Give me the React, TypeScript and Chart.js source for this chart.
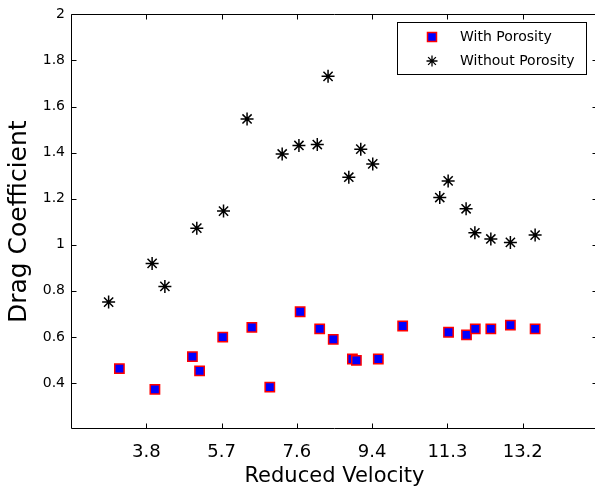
import React, { useEffect, useRef } from "react";
import { Chart, registerables } from "chart.js";

Chart.register(...registerables);

// Reduced velocity values (x) and drag coefficients (y)
const withPorosityX = [3.10, 3.99, 4.93, 5.11, 5.69, 6.42, 6.87, 7.63, 8.12, 8.46, 8.94, 9.04, 9.59, 10.20, 11.35, 11.80, 12.02, 12.41, 12.90, 13.52];
const withPorosityY = [0.462, 0.372, 0.514, 0.452, 0.599, 0.641, 0.382, 0.709, 0.635, 0.589, 0.504, 0.498, 0.504, 0.647, 0.620, 0.609, 0.635, 0.635, 0.651, 0.635];

const withoutPorosityX = [2.83, 3.92, 4.24, 5.04, 5.71, 6.30, 7.18, 7.60, 8.06, 8.33, 8.85, 9.15, 9.45, 11.13, 11.34, 11.79, 12.01, 12.41, 12.90, 13.52];
const withoutPorosityY = [0.751, 0.919, 0.819, 1.072, 1.146, 1.546, 1.394, 1.431, 1.435, 1.731, 1.293, 1.415, 1.351, 1.205, 1.277, 1.156, 1.052, 1.025, 1.010, 1.042];

const xTickValues = [3.774, 5.661, 7.548, 9.435, 11.322, 13.209];
const xTickLabels = ["3.8", "5.7", "7.6", "9.4", "11.3", "13.2"];
const yTickValues = [0.4, 0.6, 0.8, 1.0, 1.2, 1.4, 1.6, 1.8, 2.0];
const yTickLabels = ["0.4", "0.6", "0.8", "1", "1.2", "1.4", "1.6", "1.8", "2"];

const seriesNames = ["With Porosity", "Without Porosity"];
const xTitle = "Reduced Velocity";
const yTitle = "Drag Coefficient";

const FONT = "'DejaVu Sans', 'Liberation Sans', Arial, sans-serif";

const framePlugin = {
  id: "matlabFrame",
  afterDraw(chart: any) {
    const ctx = chart.ctx;
    const a = chart.chartArea;
    const L = Math.round(a.left) + 0.5;
    const R = Math.round(a.right) - 0.5;
    const T = Math.round(a.top) + 0.5;
    const B = Math.round(a.bottom) - 0.5;
    ctx.save();
    ctx.strokeStyle = "#000";
    ctx.lineWidth = 1;
    ctx.beginPath();
    ctx.rect(L, T, R - L, B - T);
    ctx.stroke();
    const tl = 5;
    const xs = chart.scales.x;
    const ys = chart.scales.y;
    ctx.beginPath();
    xTickValues.forEach((v) => {
      const px = Math.round(xs.getPixelForValue(v)) + 0.5;
      ctx.moveTo(px, B);
      ctx.lineTo(px, B - tl);
      ctx.moveTo(px, T);
      ctx.lineTo(px, T + tl);
    });
    yTickValues.forEach((v) => {
      const py = Math.round(ys.getPixelForValue(v)) + 0.5;
      ctx.moveTo(L, py);
      ctx.lineTo(L + tl, py);
      ctx.moveTo(R, py);
      ctx.lineTo(R - tl, py);
    });
    ctx.stroke();

    // Legend box
    const lx = 397.5, ly = 22.5, lw = 189, lh = 52;
    ctx.fillStyle = "#fff";
    ctx.fillRect(lx, ly, lw, lh);
    ctx.strokeStyle = "#000";
    ctx.lineWidth = 1;
    ctx.strokeRect(lx, ly, lw, lh);

    const mx = 432;
    const r1 = 37, r2 = 61;
    ctx.fillStyle = "#0000ff";
    ctx.strokeStyle = "#ff0000";
    ctx.lineWidth = 1.5;
    ctx.fillRect(mx - 4.5, r1 - 4.5, 9, 9);
    ctx.strokeRect(mx - 4.5, r1 - 4.5, 9, 9);
    ctx.strokeStyle = "#000";
    ctx.lineWidth = 1.3;
    const s = 5.5;
    const d = s * Math.SQRT1_2;
    ctx.beginPath();
    ctx.moveTo(mx - s, r2); ctx.lineTo(mx + s, r2);
    ctx.moveTo(mx, r2 - s); ctx.lineTo(mx, r2 + s);
    ctx.moveTo(mx - d, r2 - d); ctx.lineTo(mx + d, r2 + d);
    ctx.moveTo(mx - d, r2 + d); ctx.lineTo(mx + d, r2 - d);
    ctx.stroke();

    ctx.fillStyle = "#000";
    ctx.font = `14px ${FONT}`;
    ctx.textAlign = "left";
    ctx.textBaseline = "middle";
    ctx.fillText(seriesNames[0], 460, r1);
    ctx.fillText(seriesNames[1], 460, r2);
    ctx.restore();
  },
};

export default function App() {
  const ref = useRef<HTMLCanvasElement | null>(null);
  useEffect(() => {
    if (!ref.current) return;
    const chart = new Chart(ref.current, {
      type: "scatter",
      data: {
        datasets: [
          {
            label: seriesNames[0],
            data: withPorosityX.map((x, i) => ({ x, y: withPorosityY[i] })),
            pointStyle: "rect",
            pointRadius: 6.6,
            pointHoverRadius: 6.6,
            backgroundColor: "#0000ff",
            borderColor: "#ff0000",
            borderWidth: 1.5,
          },
          {
            label: seriesNames[1],
            data: withoutPorosityX.map((x, i) => ({ x, y: withoutPorosityY[i] })),
            pointStyle: "star",
            pointRadius: 6.5,
            pointHoverRadius: 6.5,
            backgroundColor: "#000",
            borderColor: "#000",
            borderWidth: 1.5,
          },
        ],
      },
      options: {
        animation: false,
        responsive: false,
        events: [],
        layout: { padding: { top: 14, right: 12, left: 0, bottom: 0 } },
        plugins: { legend: { display: false }, tooltip: { enabled: false } },
        scales: {
          x: {
            type: "linear",
            min: 1.887,
            max: 15.096,
            afterBuildTicks: (scale: any) => {
              scale.ticks = xTickValues.map((v) => ({ value: v }));
            },
            afterFit: (scale: any) => {
              scale.height = 64;
            },
            grid: { display: false, drawTicks: false },
            border: { display: false },
            ticks: {
              autoSkip: false,
              maxRotation: 0,
              padding: 13,
              color: "#000",
              font: { family: FONT, size: 18 },
              callback: (_v: any, i: number) => xTickLabels[i],
            },
            title: {
              display: true,
              text: xTitle,
              color: "#000",
              font: { family: FONT, size: 21 },
              padding: { top: 0, bottom: 4 },
            },
          },
          y: {
            type: "linear",
            min: 0.2,
            max: 2,
            afterBuildTicks: (scale: any) => {
              scale.ticks = yTickValues.map((v) => ({ value: v }));
            },
            afterFit: (scale: any) => {
              scale.width = 71;
            },
            grid: { display: false, drawTicks: false },
            border: { display: false },
            ticks: {
              autoSkip: false,
              padding: 6,
              color: "#000",
              font: { family: FONT, size: 14 },
              callback: (_v: any, i: number) => yTickLabels[i],
            },
            title: {
              display: true,
              text: yTitle,
              color: "#000",
              font: { family: FONT, size: 25 },
              padding: { top: 4, bottom: 0 },
            },
          },
        },
      },
      plugins: [framePlugin],
    } as any);
    return () => chart.destroy();
  }, []);

  return (
    <div
      style={{
        position: "fixed",
        left: 0,
        top: 0,
        width: 595,
        height: 493,
        overflow: "hidden",
        background: "#fff",
      }}
    >
      <canvas ref={ref} width={610} height={493} style={{ width: 610, height: 493, display: "block" }} />
    </div>
  );
}
